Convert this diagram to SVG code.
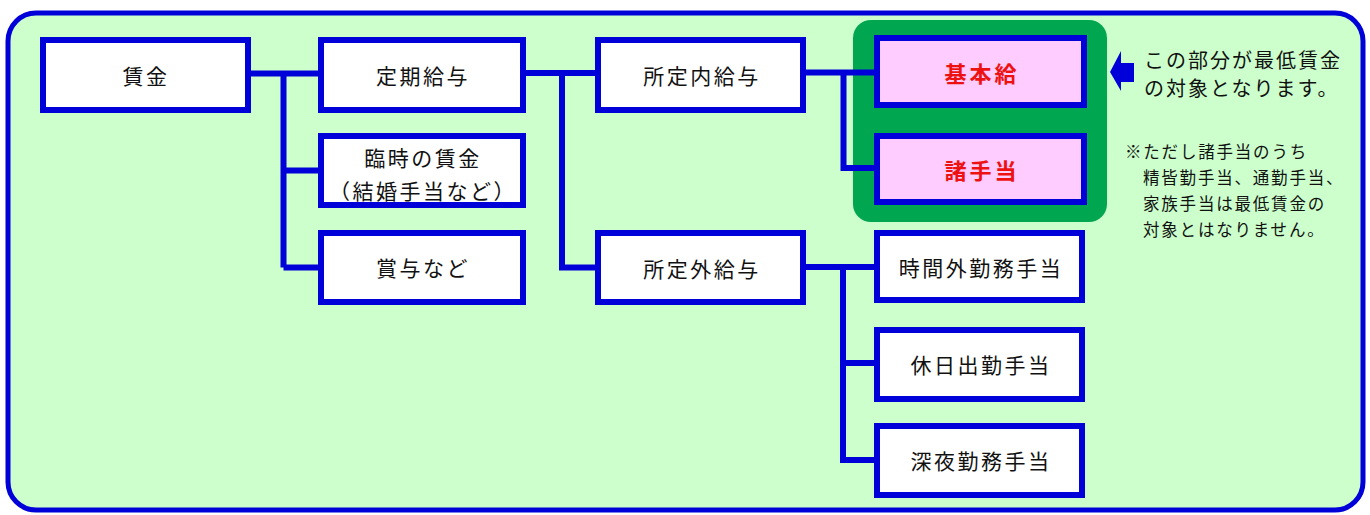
<svg xmlns="http://www.w3.org/2000/svg" width="1370" height="515" viewBox="0 0 1370 515">
<style>
.box{fill:#ffffff;stroke:#0000d8;stroke-width:6}
.pbox{fill:#ffccff;stroke:#0000d8;stroke-width:6}
.lbl{font-family:"Noto Sans CJK JP","Noto Sans CJK SC",sans-serif;font-size:21px;letter-spacing:2.5px;fill:#111111;text-anchor:middle;dominant-baseline:central}
.red{font-family:"Noto Sans CJK JP","Noto Sans CJK SC",sans-serif;font-size:22px;font-weight:bold;letter-spacing:3px;fill:#ee1111;text-anchor:middle;dominant-baseline:central}
.note{font-family:"Noto Sans CJK JP","Noto Sans CJK SC",sans-serif;fill:#111111;dominant-baseline:central}
.conn{fill:none;stroke:#0000d8;stroke-width:6}
</style>
<rect x="8" y="13" width="1355" height="497" rx="28" fill="#ccffcc" stroke="#0000d8" stroke-width="5"/>
<rect id="min-wage-group" x="853" y="20" width="254" height="202" rx="18" fill="#00a650"/>
<g id="connectors">
<path class="conn" d="M251,73.5 H318 M283.5,73.5 V267.5 M283.5,170.5 H318 M283.5,267.5 H318"/>
<path class="conn" d="M526,73 H595 M562,73 V267.5 H595"/>
<path class="conn" d="M806,72.5 H874 M843.5,72.5 V168 H874"/>
<path class="conn" d="M806,267 H874 M843,267 V460 H874 M843,363 H874"/>
</g>
<g id="n-chingin"><rect class="box" x="43" y="40" width="205" height="70"/><text class="lbl" x="146" y="75">賃金</text></g>
<g id="n-teiki"><rect class="box" x="321" y="40" width="202" height="70"/><text class="lbl" x="423" y="75">定期給与</text></g>
<g id="n-rinji"><rect class="box" x="321" y="136" width="202" height="69"/><text class="lbl" x="423" y="157">臨時の賃金</text><text class="lbl" x="423" y="190">（結婚手当など）</text></g>
<g id="n-shoyo"><rect class="box" x="321" y="233" width="202" height="69"/><text class="lbl" x="423" y="267">賞与など</text></g>
<g id="n-shoteinai"><rect class="box" x="598" y="40" width="205" height="70"/><text class="lbl" x="702" y="75">所定内給与</text></g>
<g id="n-shoteigai"><rect class="box" x="598" y="233" width="205" height="69"/><text class="lbl" x="702" y="268">所定外給与</text></g>
<g id="n-kihonkyu"><rect class="pbox" x="877" y="38" width="207" height="67"/><text class="red" x="982" y="72">基本給</text></g>
<g id="n-shoteate"><rect class="pbox" x="877" y="136" width="207" height="66"/><text class="red" x="982" y="169">諸手当</text></g>
<g id="n-jikangai"><rect class="box" x="877" y="233" width="205" height="67"/><text class="lbl" x="981" y="267">時間外勤務手当</text></g>
<g id="n-kyujitsu"><rect class="box" x="877" y="330" width="205" height="69"/><text class="lbl" x="981" y="364">休日出勤手当</text></g>
<g id="n-shinya"><rect class="box" x="877" y="426" width="205" height="69"/><text class="lbl" x="981" y="460">深夜勤務手当</text></g>
<g id="callout">
<polygon points="1110,72 1121,51 1121,63 1134,63 1134,82 1121,82 1121,91" fill="#0000d8"/>
<text class="note" x="1144" y="59" font-size="20" letter-spacing="2">この部分が最低賃金</text>
<text class="note" x="1144" y="87" font-size="20" letter-spacing="2">の対象となります。</text>
</g>
<g id="footnote">
<text class="note" x="1125" y="151" font-size="16.5" letter-spacing="1.8">※ただし諸手当のうち</text>
<text class="note" x="1143" y="177" font-size="16.5" letter-spacing="1.8">精皆勤手当、通勤手当、</text>
<text class="note" x="1143" y="203" font-size="16.5" letter-spacing="1.8">家族手当は最低賃金の</text>
<text class="note" x="1143" y="229" font-size="16.5" letter-spacing="1.8">対象とはなりません。</text>
</g>
</svg>
